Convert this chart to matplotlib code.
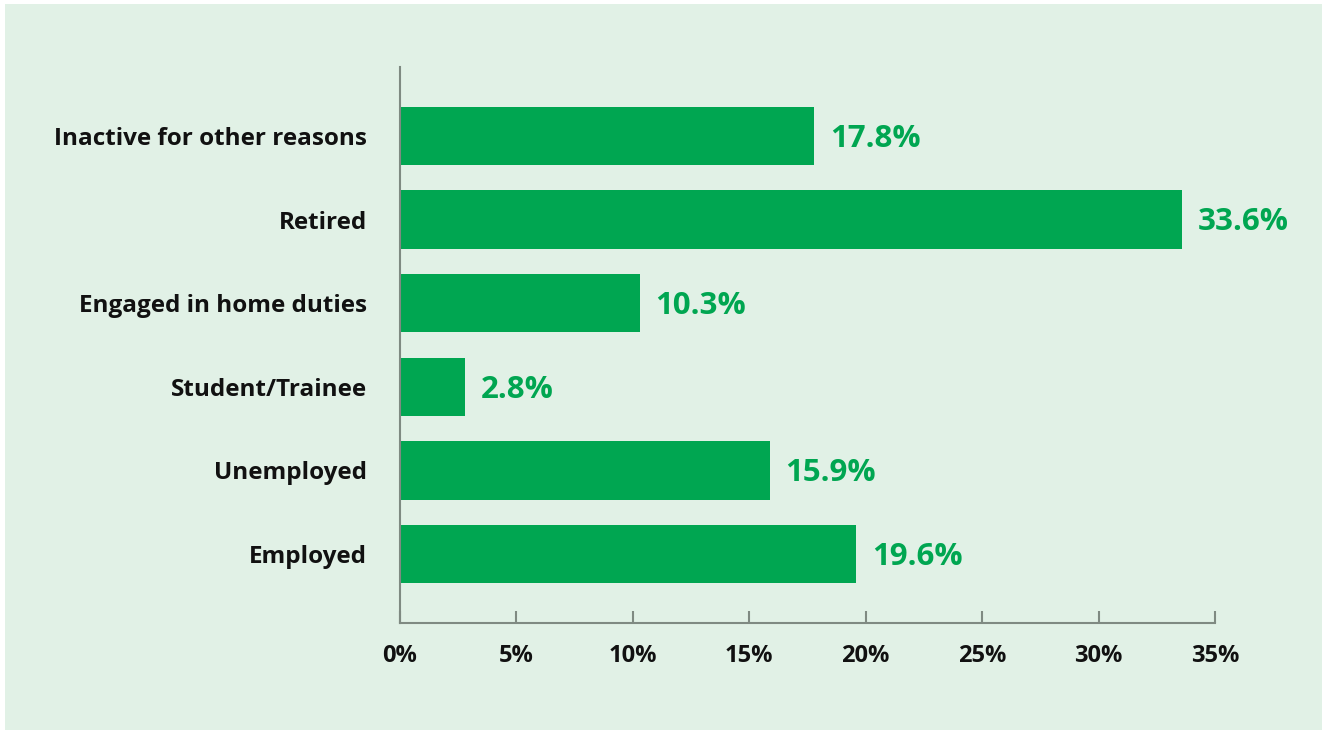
import matplotlib
matplotlib.use("Agg")
import matplotlib.pyplot as plt
from matplotlib.patches import Rectangle

categories = ["Employed", "Unemployed", "Student/Trainee",
              "Engaged in home duties", "Retired", "Inactive for other reasons"]
shares = [19.6, 15.9, 2.8, 10.3, 33.6, 17.8]
tick_values = [0, 5, 10, 15, 20, 25, 30, 35]
tick_labels = ["0%", "5%", "10%", "15%", "20%", "25%", "30%", "35%"]

GREEN = "#00A651"
PANEL = "#E1F1E6"
SPINE = "#7F8A82"
FONT = "Open Sans"

W, H = 1323, 731
fig = plt.figure(figsize=(W / 100, H / 100), dpi=100, facecolor="white")

# light green panel behind the chart
fig.patches.append(Rectangle((5 / W, 1 - 730 / H), (1322 - 5) / W, (730 - 4) / H,
                             transform=fig.transFigure, facecolor=PANEL,
                             edgecolor="none", zorder=-1))

ax = fig.add_axes([400 / W, 1 - 623 / H, (1215 - 400) / W, (623 - 67) / H])
ax.set_zorder(2)
ax.set_facecolor("none")

y = range(len(categories))
ax.barh(y, shares, height=0.7, color=GREEN, zorder=2)

for yi, v in zip(y, shares):
    ax.annotate(f"{v:.1f}%", xy=(v, yi), xytext=(11, -2), textcoords="offset points",
                ha="left", va="center", color=GREEN, fontsize=22.5,
                fontweight="bold", family=FONT)

ax.set_xlim(0, 35)
ax.set_ylim(-0.825, len(categories) - 1 + 0.825)

ax.set_yticks(list(y))
ax.set_yticklabels(categories, fontsize=17.5, fontweight="bold", family=FONT, color="#111111")
ax.set_xticks(tick_values)
ax.set_xticklabels(tick_labels, fontsize=17, fontweight="bold", family=FONT, color="#111111")

ax.tick_params(axis="y", length=0, pad=24)
ax.tick_params(axis="x", direction="in", length=9, width=1.5, color=SPINE, pad=15)

for side in ("top", "right"):
    ax.spines[side].set_visible(False)
for side in ("left", "bottom"):
    ax.spines[side].set_color(SPINE)
    ax.spines[side].set_linewidth(1.5)

fig.savefig("out.png", dpi=100, facecolor="white")
